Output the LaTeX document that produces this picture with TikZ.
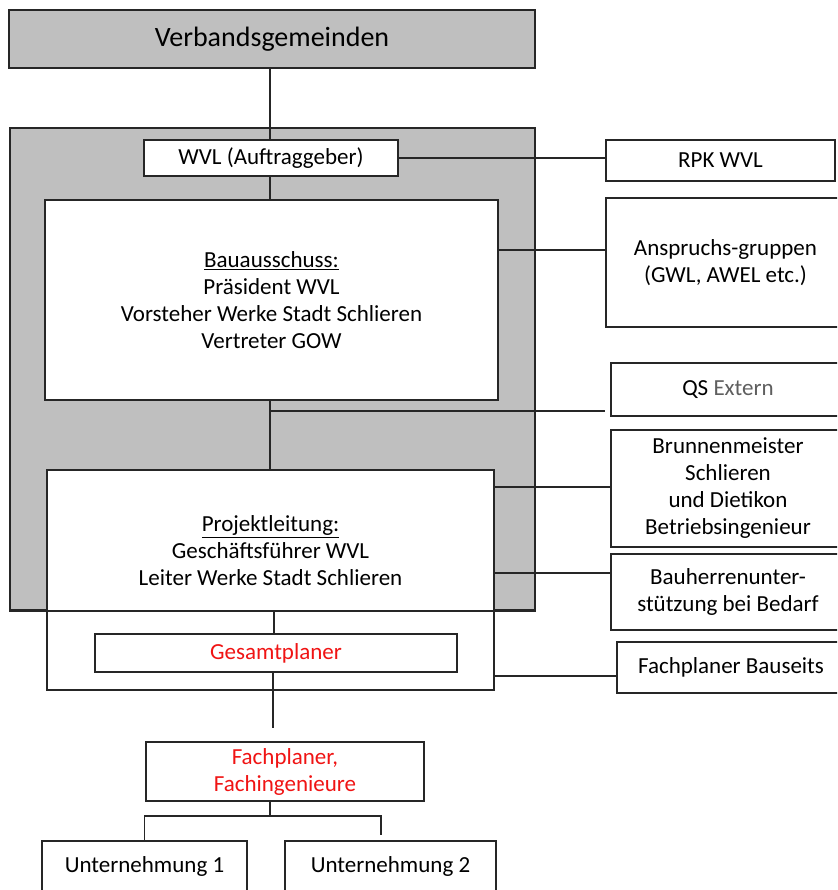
\documentclass[tikz,border=0pt]{standalone}
\usepackage{fontspec}
\setmainfont{Carlito}
\definecolor{boxgray}{RGB}{191,191,191}
\definecolor{txtred}{RGB}{240,20,20}
\definecolor{txtgray}{RGB}{95,95,95}
\begin{document}
\begin{tikzpicture}[x=1pt,y=-1pt,
  box/.style={draw=black!85, line width=1.5pt, fill=white, inner sep=0pt, align=center,
    font=\fontsize{23}{27}\selectfont},
  txt/.style={inner sep=0pt, align=center, font=\fontsize{23}{27}\selectfont},
  conn/.style={draw=black!85, line width=1.5pt}]
\useasboundingbox (0,0) rectangle (837,890);
\clip (0,0) rectangle (837,890);
% grey frame
\node[box, fill=boxgray, minimum width=525pt, minimum height=482pt] (gray) at (272.5,369) {};
% top
\node[box, fill=boxgray, minimum width=526pt, minimum height=58pt, font=\fontsize{28}{32}\selectfont] (vg) at (272,39) {Verbandsgemeinden};
\node[box, minimum width=254pt, minimum height=36pt] (wvl) at (271,158) {WVL (Auftraggeber)};
\node[box, minimum width=453pt, minimum height=200pt] (ba) at (271.5,300)
  {\underline{Bauausschuss:}\\Präsident WVL\\Vorsteher Werke Stadt Schlieren\\Vertreter GOW};
\node[box, minimum width=447pt, minimum height=220pt] (pl) at (270.5,580) {};
\node[txt] (pltext) at (270.5,551) {\underline{Projektleitung:}\\Geschäftsführer WVL\\Leiter Werke Stadt Schlieren};
\draw[conn] (gray.south west) -- (gray.south east);
\node[box, minimum width=362pt, minimum height=38pt, text=txtred] (gp) at (276,653) {Gesamtplaner};
\node[box, minimum width=278pt, minimum height=59pt, text=txtred] (fp) at (285,771.5) {Fachplaner,\\Fachingenieure};
\node[box, minimum width=205pt, minimum height=50pt] (u1) at (144.5,866) {Unternehmung 1};
\node[box, minimum width=211pt, minimum height=50pt] (u2) at (390.5,866) {Unternehmung 2};
% right column
\node[box, minimum width=229pt, minimum height=41pt] (rpk) at (720.5,160.5) {RPK WVL};
\node[box, minimum width=239pt, minimum height=129pt] (ansp) at (725.5,262.5) {Anspruchs-gruppen\\(GWL, AWEL etc.)};
\node[box, minimum width=234pt, minimum height=53pt] (qs) at (728,389.5) {QS \textcolor{txtgray}{Extern}};
\node[box, minimum width=234pt, minimum height=117pt] (br) at (728,488.5) {Brunnenmeister\\Schlieren\\und Dietikon\\Betriebsingenieur};
\node[box, minimum width=234pt, minimum height=76pt] (bh) at (728,592) {Bauherrenunter-\\stützung bei Bedarf};
\node[box, minimum width=228pt, minimum height=51pt] (fb) at (731,667.5) {Fachplaner Bauseits};
% coordinates
\coordinate (qsend) at (605,411);
\coordinate (gpend) at (273,728);
\coordinate (fpjoin) at (270,816);
\coordinate (u2end) at (381,835);
% connectors
\draw[conn] (wvl.north -| 270,0) -- (vg.south -| 270,0);
\draw[conn] (wvl.south -| 270,0) -- (ba.north -| 270,0);
\draw[conn] (ba.south -| 270,0) -- (pl.north -| 270,0);
\draw[conn] (qsend -| 270,0) -- (qsend);
\draw[conn] (wvl.east) -- (wvl.east -| rpk.west);
\draw[conn] (ba.east |- 0,250) -- (ansp.west |- 0,250);
\draw[conn] (pl.east |- 0,487) -- (br.west |- 0,487);
\draw[conn] (pl.east |- 0,573) -- (bh.west |- 0,573);
\draw[conn] (pl.east |- 0,676) -- (fb.west |- 0,676);
\draw[conn] (gp.north -| 274,0) -- (gray.south -| 274,0);
\draw[conn] (gp.south -| gpend) -- (gpend);
\draw[conn] (fp.south -| fpjoin) -- (fpjoin);
\draw[conn] (u1.north) |- (fpjoin) -| (u2end);
\end{tikzpicture}
\end{document}
